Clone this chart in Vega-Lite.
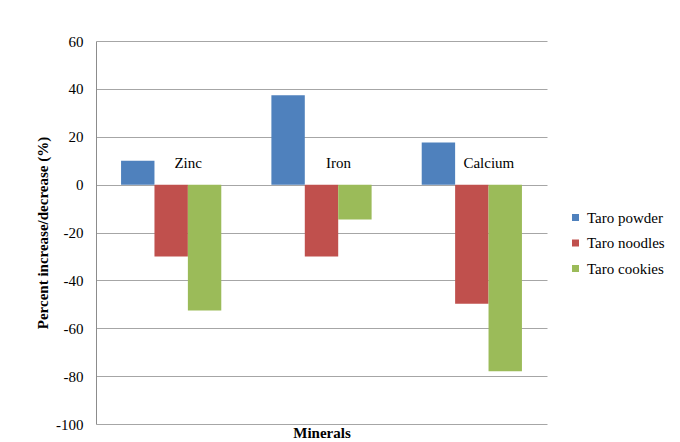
{
  "$schema": "https://vega.github.io/schema/vega-lite/v6.json",
  "autosize": {"type": "none"},
  "width": 451,
  "height": 383,
  "padding": {"left": 96, "top": 41, "right": 133, "bottom": 18},
  "background": "white",
  "config": {
    "font": "Liberation Serif, Times New Roman, serif",
    "view": {"stroke": null}
  },
  "datasets": {
    "bars": [
      {"Mineral": "Zinc", "Product": "Taro powder", "Change": 10},
      {"Mineral": "Zinc", "Product": "Taro noodles", "Change": -30},
      {"Mineral": "Zinc", "Product": "Taro cookies", "Change": -52.6},
      {"Mineral": "Iron", "Product": "Taro powder", "Change": 37.3},
      {"Mineral": "Iron", "Product": "Taro noodles", "Change": -30},
      {"Mineral": "Iron", "Product": "Taro cookies", "Change": -14.6},
      {"Mineral": "Calcium", "Product": "Taro powder", "Change": 17.6},
      {"Mineral": "Calcium", "Product": "Taro noodles", "Change": -49.8},
      {"Mineral": "Calcium", "Product": "Taro cookies", "Change": -78}
    ],
    "labels": [
      {"Mineral": "Zinc"},
      {"Mineral": "Iron"},
      {"Mineral": "Calcium"}
    ]
  },
  "layer": [
    {
      "data": {"name": "bars"},
      "mark": {"type": "bar"},
      "encoding": {
        "x": {
          "field": "Mineral", "type": "nominal", "sort": ["Zinc", "Iron", "Calcium"],
          "scale": {"paddingInner": 0.3333, "paddingOuter": 0.1667},
          "axis": {"labels": false, "ticks": false, "domain": false, "grid": false, "title": "Minerals",
                   "titleFont": "Liberation Serif, Times New Roman, serif", "titleFontWeight": "bold", "titleFontSize": 15, "titlePadding": 1, "titleColor": "black"}
        },
        "xOffset": {
          "field": "Product", "type": "nominal", "sort": ["Taro powder", "Taro noodles", "Taro cookies"],
          "scale": {"paddingInner": 0, "paddingOuter": 0}
        },
        "y": {
          "field": "Change", "type": "quantitative",
          "scale": {"domain": [-100, 60], "nice": false},
          "axis": {"values": [-100, -80, -60, -40, -20, 0, 20, 40, 60], "ticks": false, "domain": true,
                   "labelExpr": "toString(datum.value)",
                   "domainColor": "#8c8c8c", "gridColor": "#a6a6a6", "gridWidth": 1,
                   "labelFont": "Liberation Serif, Times New Roman, serif", "labelFontSize": 15, "labelColor": "black", "labelPadding": 13,
                   "title": "Percent increase/decrease (%)", "titleFont": "Liberation Serif, Times New Roman, serif", "titleFontWeight": "bold",
                   "titleFontSize": 15, "titleColor": "black", "titlePadding": 5}
        },
        "color": {
          "field": "Product", "type": "nominal",
          "sort": ["Taro powder", "Taro noodles", "Taro cookies"],
          "scale": {"domain": ["Taro powder", "Taro noodles", "Taro cookies"], "range": ["#4F81BD", "#C0504D", "#9BBB59"]},
          "legend": {"title": null, "orient": "none", "legendX": 472, "legendY": 169,
                     "symbolType": "square", "symbolSize": 49, "symbolStrokeWidth": 0,
                     "labelFont": "Liberation Serif, Times New Roman, serif", "labelFontSize": 15, "labelColor": "black",
                     "rowPadding": 9.5, "labelOffset": 4}
        }
      }
    },
    {
      "data": {"name": "labels"},
      "mark": {"type": "text", "font": "Liberation Serif, Times New Roman, serif", "fontSize": 15, "color": "black", "align": "center", "baseline": "middle", "dx": 17},
      "encoding": {
        "x": {"field": "Mineral", "type": "nominal", "sort": ["Zinc", "Iron", "Calcium"]},
        "y": {"datum": 9.2, "type": "quantitative"},
        "text": {"field": "Mineral"}
      }
    }
  ]
}
